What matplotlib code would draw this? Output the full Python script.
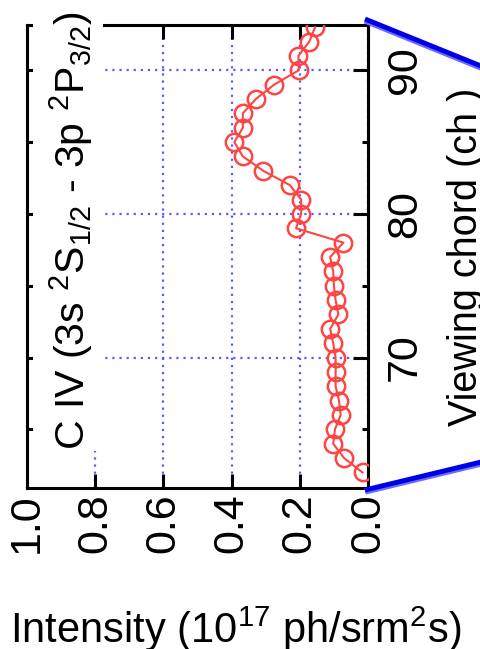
import matplotlib
matplotlib.use('Agg')
import matplotlib.pyplot as plt
from matplotlib.lines import Line2D
from matplotlib.patches import Rectangle

plt.rcParams['font.family'] = ['Liberation Sans Narrow', 'Liberation Sans', 'DejaVu Sans']
plt.rcParams['mathtext.fontset'] = 'custom'
plt.rcParams['mathtext.rm'] = 'Liberation Sans Narrow'
plt.rcParams['mathtext.default'] = 'regular'

# C IV line intensity per viewing chord
chords = list(range(62, 94))
intensity = [0.016, 0.070, 0.102, 0.097, 0.080, 0.085, 0.095, 0.095,
             0.095, 0.102, 0.111, 0.087, 0.095, 0.100, 0.102, 0.111,
             0.072, 0.211, 0.196, 0.196, 0.229, 0.307, 0.367, 0.392,
             0.367, 0.367, 0.329, 0.275, 0.203, 0.204, 0.172, 0.155]

x_ticks = [0.0, 0.2, 0.4, 0.6, 0.8, 1.0]
x_ticklabels = ['0.0', '0.2', '0.4', '0.6', '0.8', '1.0']
y_ticks = [70, 80, 90]
y_minor = [65, 75, 85]

title = r'C IV (3s $^{2}$S$_{1/2}$ - 3p $^{2}$P$_{3/2}$)'
xlabel = r'Intensity (10$^{17}$ ph/srm$^{2}$s)'
ylabel = 'Viewing chord (ch )'

W, H = 481, 649
fig = plt.figure(figsize=(W / 100, H / 100), dpi=100)
ax = fig.add_axes([27 / W, 1 - 488 / H, 341 / W, 463 / H])

ax.plot(intensity, chords, color='#ff4444', lw=1.5, marker='o', ms=12.5,
        mfc='none', mec='#ff4444', mew=1.8, zorder=4)

ax.set_xlim(1.0, 0.0)
ax.set_ylim(60.92, 93.15)
ax.set_xticks(x_ticks)
ax.set_xticklabels(x_ticklabels)
ax.set_yticks(y_ticks)
ax.set_yticks(y_minor, minor=True)

ax.grid(True, which='major', color='#5a5aff', linestyle=(0, (1, 2.2)), lw=1.6)

for s in ax.spines.values():
    s.set_linewidth(2.2)

ax.tick_params(axis='x', which='major', direction='in', top=True, bottom=True,
               length=10, width=2.2, labelsize=31, labelrotation=90, pad=4)
ax.tick_params(axis='y', which='major', direction='in', left=True, right=True,
               length=11, width=2.2, labelsize=31, labelrotation=90,
               labelleft=False, labelright=True, pad=12)
ax.tick_params(axis='y', which='minor', direction='in', left=True, right=True,
               length=4, width=2.2)
for lbl in ax.get_yticklabels():
    lbl.set_va('center')

ax.yaxis.set_label_position('right')
ax.set_ylabel(ylabel, fontsize=28.5, rotation=90, labelpad=16)

# white panel behind the rotated line label
ax.add_patch(Rectangle((0.0176, 0.08), 0.205, 1.0, transform=ax.transAxes,
                       facecolor='white', edgecolor='none', clip_on=False,
                       zorder=5))
ax.text(0.13, 0.082, title, transform=ax.transAxes, rotation=90,
        ha='center', va='bottom', fontsize=29.5, zorder=6)

fig.text(10 / W, 1 - 643 / H, xlabel, fontsize=30, ha='left', va='baseline',
         family=['Liberation Sans', 'DejaVu Sans'])

# zoom connector lines toward the neighbouring panel
for (x0, y0), (x1, y1) in [((365, 19), (481, 66)), ((365, 490), (481, 462))]:
    fig.add_artist(Line2D([x0 / W, x1 / W], [1 - (y0 + 1.5) / H, 1 - (y1 + 1.5) / H],
                          transform=fig.transFigure, color='#6a6aff', lw=4.5,
                          solid_capstyle='butt'))
    fig.add_artist(Line2D([x0 / W, x1 / W], [1 - y0 / H, 1 - y1 / H],
                          transform=fig.transFigure, color='#0000e6', lw=3.5,
                          solid_capstyle='butt'))

fig.savefig('out.png', dpi=100)
